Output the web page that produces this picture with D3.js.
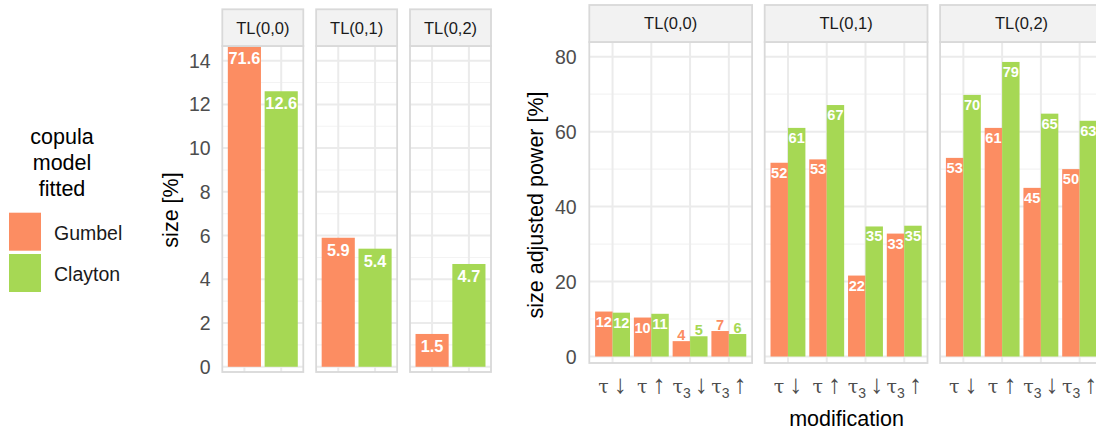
<!DOCTYPE html>
<html>
<head>
<meta charset="utf-8">
<script src="https://cdnjs.cloudflare.com/ajax/libs/d3/7.8.5/d3.min.js"></script>
<style>
  html, body { margin: 0; padding: 0; background: #ffffff; }
  svg { display: block; font-family: "Liberation Sans", Arial, Helvetica, sans-serif; }
</style>
</head>
<body>
<svg id="chart" width="1096" height="430"></svg>
<script>
// ---- data -------------------------------------------------------------
const tailLevels = ["TL(0,0)", "TL(0,1)", "TL(0,2)"];
const copulas = ["Gumbel", "Clayton"];
const copulaColors = ["#FC8D62", "#A6D854"];

// size [%] per tail level
const sizeGumbel = [71.6, 5.9, 1.5];
const sizeClayton = [12.6, 5.4, 4.7];
const sizeTicks = [0, 2, 4, 6, 8, 10, 12, 14];

// size adjusted power [%] per tail level, one entry per modification
const modifications = ["tau_down", "tau_up", "tau3_down", "tau3_up"];
const modLabels = [
  { base: "τ", sub: "", arrow: "↓" },
  { base: "τ", sub: "", arrow: "↑" },
  { base: "τ", sub: "3", arrow: "↓" },
  { base: "τ", sub: "3", arrow: "↑" }
];
const powerGumbel = [
  [12.0, 10.4, 4.1, 6.8],
  [51.7, 52.6, 21.6, 32.8],
  [53.0, 61.0, 45.0, 50.0]
];
const powerClayton = [
  [11.7, 11.4, 5.4, 6.0],
  [61.0, 67.1, 34.7, 34.9],
  [69.8, 78.6, 64.8, 62.9]
];
const powerTicks = [0, 20, 40, 60, 80];

// ---- styling ----------------------------------------------------------
const GRID_MAJOR = "#EBEBEB";
const GRID_MINOR = "#F3F3F3";
const BORDER = "#D9D9D9";
const STRIP_FILL = "#F2F2F2";
const TICK_TEXT = "#4D4D4D";

const svg = d3.select("#chart");
svg.append("rect").attr("width", 1096).attr("height", 430).attr("fill", "#fff");

// Draws one faceted bar chart: a row of panels with strips on top.
function facetRow(opts) {
  const g = svg.append("g");
  const y = d3.scaleLinear().domain(opts.yDomain).range([opts.panelBottom, opts.panelTop]);
  const minorTicks = d3.range(opts.yDomain[0] < 0 ? 0 : opts.yDomain[0], opts.yDomain[1], opts.minorStep)
    .filter(v => !opts.yTicks.includes(v));

  tailLevels.forEach((tl, p) => {
    const x0 = opts.panelLeft + p * (opts.panelWidth + opts.panelGap);
    const x = d3.scalePoint().domain(opts.xDomain).range([x0, x0 + opts.panelWidth]).padding(0.6);
    const step = x.step();
    const pg = g.append("g");
    const clipId = "clip-" + opts.id + "-" + p;
    pg.append("clipPath").attr("id", clipId)
      .append("rect").attr("x", x0).attr("y", opts.panelTop)
      .attr("width", opts.panelWidth).attr("height", opts.panelBottom - opts.panelTop);

    // grid
    pg.selectAll(".minor").data(minorTicks).join("line")
      .attr("x1", x0).attr("x2", x0 + opts.panelWidth)
      .attr("y1", d => y(d)).attr("y2", d => y(d))
      .attr("stroke", GRID_MINOR).attr("stroke-width", 1.1);
    pg.selectAll(".major").data(opts.yTicks).join("line")
      .attr("x1", x0).attr("x2", x0 + opts.panelWidth)
      .attr("y1", d => y(d)).attr("y2", d => y(d))
      .attr("stroke", GRID_MAJOR).attr("stroke-width", 2);
    pg.selectAll(".vmajor").data(opts.xDomain).join("line")
      .attr("x1", d => x(d)).attr("x2", d => x(d))
      .attr("y1", opts.panelTop).attr("y2", opts.panelBottom)
      .attr("stroke", GRID_MAJOR).attr("stroke-width", 2);

    // bars
    const bars = opts.barsFor(p, x, step);
    pg.append("g").attr("clip-path", `url(#${clipId})`)
      .selectAll("rect").data(bars).join("rect")
      .attr("x", d => d.cx - d.w / 2).attr("width", d => d.w)
      .attr("y", d => y(d.value)).attr("height", d => y(0) - y(d.value))
      .attr("fill", d => d.color);

    // panel border
    pg.append("rect").attr("x", x0).attr("y", opts.panelTop)
      .attr("width", opts.panelWidth).attr("height", opts.panelBottom - opts.panelTop)
      .attr("fill", "none").attr("stroke", BORDER).attr("stroke-width", 1.8);

    // strip
    pg.append("rect").attr("x", x0).attr("y", opts.stripTop)
      .attr("width", opts.panelWidth).attr("height", opts.panelTop - opts.stripTop)
      .attr("fill", STRIP_FILL).attr("stroke", BORDER).attr("stroke-width", 1.8);
    pg.append("text").attr("x", x0 + opts.panelWidth / 2)
      .attr("y", (opts.stripTop + opts.panelTop) / 2).attr("dy", "0.36em")
      .attr("text-anchor", "middle").attr("font-size", 16.5).attr("fill", "#1A1A1A")
      .text(tl);

    // value labels
    pg.selectAll(".lab").data(bars).join("text")
      .attr("x", d => d.cx)
      .attr("y", d => {
        const top = y(Math.min(d.value, opts.yDomain[1]));
        return d.outside ? top - 1.5 : top + opts.labelInset;
      })
      .attr("text-anchor", "middle").attr("font-weight", "bold")
      .attr("font-size", opts.labelSize)
      .attr("fill", d => d.outside ? d.color : "#FFFFFF")
      .text(d => opts.fmt(d.value));

    if (opts.drawXTicks) opts.drawXTicks(pg, x);
  });

  // y tick labels
  g.selectAll(".ytick").data(opts.yTicks).join("text")
    .attr("x", opts.tickRight).attr("y", d => y(d)).attr("dy", "0.36em")
    .attr("text-anchor", "end").attr("font-size", 19.5).attr("fill", TICK_TEXT)
    .text(d => d);

  // y title
  g.append("text")
    .attr("transform", `translate(${opts.titleX},${opts.titleY}) rotate(-90)`)
    .attr("text-anchor", "middle").attr("dy", "0.36em")
    .attr("font-size", 21.5).attr("fill", "#000")
    .text(opts.yTitle);
}

// ---- left: size ------------------------------------------------------
facetRow({
  id: "size",
  xDomain: copulas,
  panelLeft: 222.3, panelWidth: 81, panelGap: 12.85,
  stripTop: 9.3, panelTop: 46, panelBottom: 372,
  yDomain: [-0.24, 14.67], yTicks: sizeTicks, minorStep: 1,
  tickRight: 210.7, titleX: 170, titleY: 210, yTitle: "size [%]",
  labelSize: 16.3, labelInset: 18, fmt: d3.format(".1f"),
  barsFor: (p, x, step) => [
    { cx: x("Gumbel"), w: step * 0.9, value: sizeGumbel[p], color: copulaColors[0], outside: false },
    { cx: x("Clayton"), w: step * 0.9, value: sizeClayton[p], color: copulaColors[1], outside: false }
  ]
});

// ---- right: size adjusted power --------------------------------------
facetRow({
  id: "power",
  xDomain: modifications,
  panelLeft: 589.3, panelWidth: 162.8, panelGap: 12.6,
  stripTop: 5, panelTop: 42, panelBottom: 363,
  yDomain: [-1.73, 83.92], yTicks: powerTicks, minorStep: 10,
  tickRight: 576.7, titleX: 535, titleY: 205, yTitle: "size adjusted power [%]",
  labelSize: 14.6, labelInset: 15, fmt: d3.format(".0f"),
  barsFor: (p, x, step) => {
    const out = [];
    modifications.forEach((m, i) => {
      [powerGumbel, powerClayton].forEach((series, s) => {
        const v = series[p][i];
        out.push({
          cx: x(m) + (s === 0 ? -0.225 : 0.225) * step,
          w: step * 0.45, value: v, color: copulaColors[s], outside: v < 8
        });
      });
    });
    return out;
  },
  drawXTicks: (pg, x) => {
    const t = pg.selectAll(".xtick").data(modifications).join("text")
      .attr("x", d => x(d)).attr("y", 393)
      .attr("text-anchor", "middle").attr("fill", TICK_TEXT);
    t.each(function (d, i) {
      const lab = modLabels[i];
      const el = d3.select(this);
      el.append("tspan").attr("font-family", "DejaVu Serif").attr("font-size", 19).text(lab.base);
      if (lab.sub) {
        el.append("tspan").attr("dy", 5).attr("font-size", 14).text(lab.sub);
        el.append("tspan").attr("dy", -5).attr("font-size", 26).attr("dx", 4).text(lab.arrow);
      } else {
        el.append("tspan").attr("font-size", 26).attr("dx", 5).text(lab.arrow);
      }
    });
  }
});

// x title
svg.append("text").attr("x", 846.5).attr("y", 426)
  .attr("text-anchor", "middle").attr("font-size", 21.5).attr("fill", "#000")
  .text("modification");

// ---- legend ----------------------------------------------------------
const legend = svg.append("g");
legend.selectAll(".lt").data(["copula", "model", "fitted"]).join("text")
  .attr("x", 62).attr("y", (d, i) => 144 + i * 26)
  .attr("text-anchor", "middle").attr("font-size", 21.5).attr("fill", "#000")
  .text(d => d);
copulas.forEach((c, i) => {
  legend.append("rect").attr("x", 9).attr("y", 212.7 + i * 41.3)
    .attr("width", 32).attr("height", 38).attr("fill", copulaColors[i]);
  legend.append("text").attr("x", 54).attr("y", 240 + i * 40.5)
    .attr("font-size", 19.5).attr("fill", "#1A1A1A").text(c);
});
</script>
</body>
</html>
